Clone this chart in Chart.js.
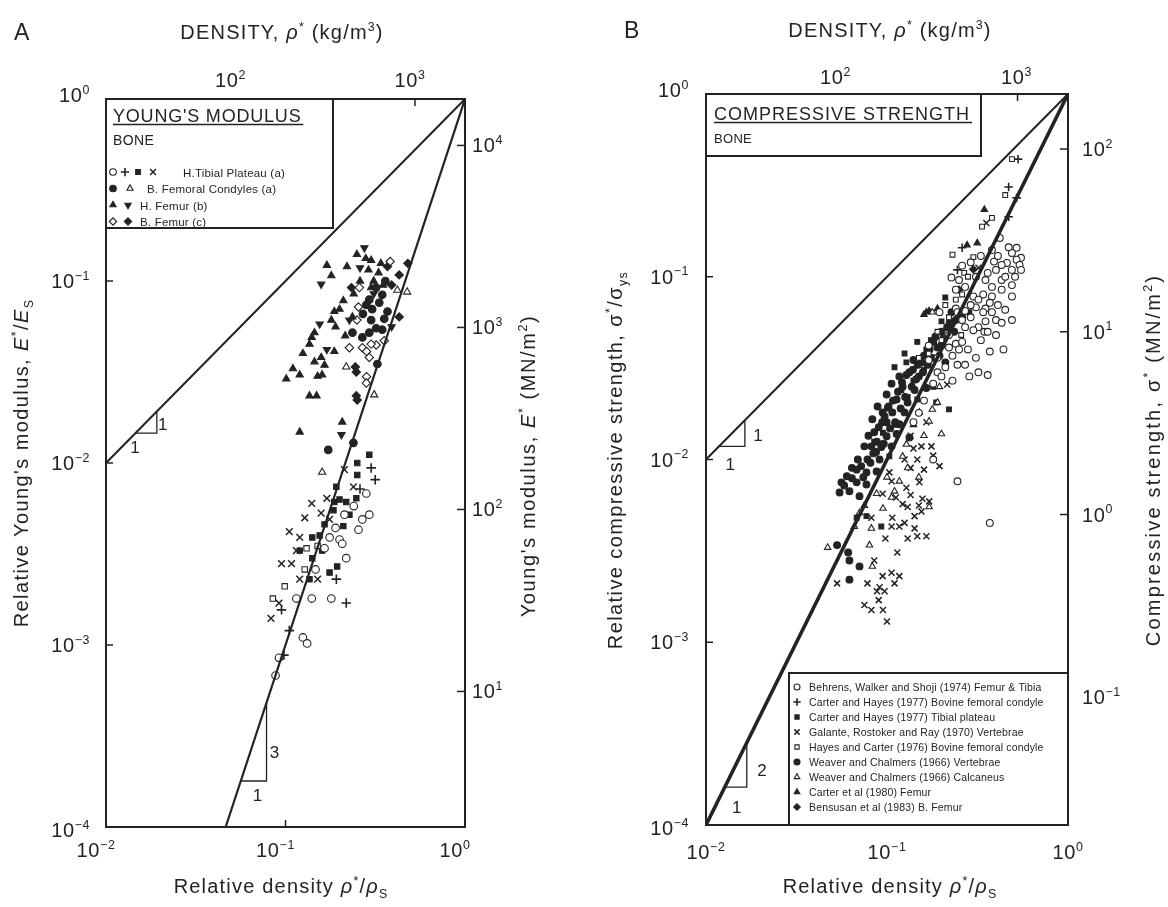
<!DOCTYPE html>
<html>
<head>
<meta charset="utf-8">
<title>Bone: Young's modulus and compressive strength vs relative density</title>
<script src="https://cdn.jsdelivr.net/npm/chart.js@4.4.1/dist/chart.umd.min.js"></script>
<style>
  html, body { margin: 0; padding: 0; background: #fff; }
  .panel { position: absolute; top: 0; width: 584px; height: 907px; }
  #panelA { left: 0; }
  #panelB { left: 584px; }
</style>
</head>
<body>
<div class="panel" id="panelA"><canvas id="chartA" width="584" height="907"></canvas></div>
<div class="panel" id="panelB"><canvas id="chartB" width="584" height="907"></canvas></div>
<script>
// ---- reference constants for the secondary axes ----
const rhoSolid = 1900;      // kg/m3, top axes
const modulusSolid = 18000; // MN/m2, right axis of A
const strengthSolid = 200;  // MN/m2, right axis of B

// ---- tick values ----
const relDensityTicks = [0.01, 0.1, 1];
const relPropertyTicks = [1e-4, 1e-3, 1e-2, 1e-1, 1];
const densityTicks = [100, 1000];
const modulusTicks = [10, 100, 1000, 10000];
const strengthTicks = [0.1, 1, 10, 100];

// ---- A: Young's modulus, [rho*/rhoS, E*/Es] ----
const aTibialCircle = [[0.282,0.0068],[0.213,0.0052],[0.268,0.0049],[0.293,0.0052],[0.176,0.0039],[0.200,0.0038],
  [0.165,0.0034],[0.207,0.0036],[0.218,0.0030],[0.147,0.0026],[0.115,0.0018],[0.140,0.0018],[0.180,0.0018],
  [0.125,0.0011],[0.132,0.00102],[0.092,0.00085],[0.088,0.00068],[0.240,0.0058],[0.190,0.0044],[0.255,0.0043]];
const aTibialPlus = [[0.300,0.0094],[0.316,0.0081],[0.192,0.0023],[0.218,0.0017],[0.095,0.00156],[0.105,0.0012],
  [0.098,0.00088],[0.260,0.0072]];
const aTibialSquare = [[0.251,0.0100],[0.293,0.0111],[0.251,0.0086],[0.192,0.0074],[0.200,0.0063],[0.187,0.0061],
  [0.218,0.0061],[0.248,0.0064],[0.227,0.0052],[0.141,0.0039],[0.155,0.0040],[0.120,0.0033],[0.141,0.0030],
  [0.176,0.0025],[0.194,0.0027],[0.136,0.0023],[0.165,0.0046],[0.185,0.0055],[0.160,0.0033],[0.210,0.0045]];
const aTibialX = [[0.213,0.0092],[0.239,0.0074],[0.158,0.0053],[0.176,0.0049],[0.128,0.0050],[0.105,0.0042],
  [0.120,0.0039],[0.108,0.0028],[0.120,0.0023],[0.151,0.0023],[0.083,0.0014],[0.092,0.0017],[0.140,0.0060],
  [0.170,0.0064],[0.095,0.0028],[0.115,0.0033]];
const aTibialOpenSquare = [[0.151,0.0035],[0.131,0.0034],[0.128,0.0026],[0.099,0.0021],[0.085,0.0018]];
const aCondylesDot = [[0.293,0.079],[0.282,0.074],[0.304,0.070],[0.333,0.076],[0.346,0.084],[0.320,0.055],
  [0.346,0.054],[0.293,0.052],[0.236,0.052],[0.268,0.049],[0.325,0.035],[0.239,0.0129],[0.173,0.0118],
  [0.360,0.100],[0.320,0.092],[0.370,0.068],[0.300,0.061],[0.355,0.062],[0.270,0.066]];
const aCondylesTri = [[0.420,0.089],[0.476,0.087],[0.218,0.0337],[0.312,0.0237],[0.160,0.0089]];
const aHFemurUp = [[0.280,0.133],[0.170,0.122],[0.180,0.107],[0.290,0.115],[0.330,0.111],[0.310,0.100],[0.350,0.095],
  [0.300,0.092],[0.200,0.070],[0.187,0.068],[0.180,0.061],[0.236,0.0635],[0.140,0.049],[0.136,0.045],[0.187,0.041],
  [0.158,0.038],[0.165,0.0345],[0.101,0.029],[0.120,0.0305],[0.151,0.030],[0.160,0.0305],[0.136,0.0234],
  [0.149,0.0234],[0.207,0.0168],[0.120,0.0148],[0.250,0.140],[0.220,0.120],[0.260,0.100],[0.300,0.130],
  [0.340,0.125],[0.240,0.085],[0.210,0.078],[0.190,0.056],[0.215,0.050],[0.145,0.052],[0.125,0.040],
  [0.145,0.036],[0.110,0.033]];
const aHFemurDown = [[0.275,0.152],[0.158,0.096],[0.227,0.061],[0.390,0.056],[0.170,0.042],[0.205,0.0143],
  [0.310,0.085],[0.260,0.118],[0.155,0.058]];
const aBFemurOpen = [[0.258,0.092],[0.255,0.072],[0.320,0.0445],[0.383,0.128],[0.250,0.061],[0.227,0.043],
  [0.268,0.043],[0.283,0.041],[0.293,0.038],[0.283,0.0298],[0.282,0.0275],[0.300,0.045],[0.355,0.047]];
const aBFemurFilled = [[0.430,0.108],[0.233,0.092],[0.430,0.0635],[0.245,0.0337],[0.248,0.0316],[0.248,0.0234],
  [0.251,0.0222],[0.480,0.125],[0.390,0.095],[0.370,0.120]];

// guide lines and slope triangles of A
const aSlopeOne = [[0.01,0.01],[1,1]];
const aSlopeThree = [[0.0464,0.0001],[1,1]];
const aTriangleOne = [[0.0146,0.0146],[0.0192,0.0146],[0.0192,0.0192]];
const aTriangleThree = [[0.0564,0.000179],[0.0784,0.000179],[0.0784,0.000482]];
const aSlopeLabels = [['1',0.0207,0.0163],['1',0.0145,0.01225],['3',0.0869,0.000258],['1',0.0699,0.00015]];

// ---- B: compressive strength, [rho*/rhoS, sigma*/sigma_ys] ----
const bBehrens = [[0.42,0.163],[0.38,0.14],[0.52,0.144],[0.49,0.135],[0.55,0.127],[0.52,0.124],[0.46,0.119],
  [0.54,0.116],[0.43,0.116],[0.39,0.121],[0.40,0.109],[0.49,0.109],[0.55,0.109],[0.227,0.099],[0.25,0.096],
  [0.31,0.100],[0.35,0.096],[0.43,0.096],[0.49,0.090],[0.38,0.088],[0.27,0.088],[0.24,0.085],[0.30,0.078],
  [0.34,0.080],[0.38,0.078],[0.43,0.085],[0.49,0.078],[0.24,0.067],[0.27,0.065],[0.31,0.068],[0.35,0.067],
  [0.195,0.064],[0.245,0.064],[0.34,0.064],[0.38,0.064],[0.40,0.058],[0.43,0.056],[0.49,0.058],[0.35,0.057],
  [0.32,0.053],[0.30,0.051],[0.27,0.053],[0.345,0.050],[0.37,0.039],[0.44,0.040],[0.17,0.042],[0.22,0.041],
  [0.24,0.043],[0.26,0.044],[0.285,0.0285],[0.32,0.030],[0.36,0.029],[0.17,0.035],[0.23,0.037],[0.245,0.033],
  [0.19,0.030],[0.20,0.0285],[0.23,0.027],[0.18,0.026],[0.14,0.016],[0.18,0.010],[0.245,0.0076],[0.37,0.0045],
  [0.26,0.115],[0.29,0.120],[0.33,0.130],[0.36,0.105],[0.41,0.130],[0.45,0.100],[0.47,0.145],[0.51,0.100],
  [0.29,0.070],[0.32,0.075],[0.37,0.072],[0.41,0.070],[0.45,0.066],[0.26,0.058],[0.29,0.060],[0.33,0.045],
  [0.28,0.040],[0.31,0.036],[0.21,0.032],[0.25,0.040],[0.36,0.050],[0.40,0.048],[0.22,0.048],[0.19,0.036],
  [0.27,0.033],[0.16,0.021],[0.15,0.018]];
const bCarterBovine = [[0.53,0.44],[0.52,0.27],[0.47,0.31],[0.47,0.213],[0.26,0.144],[0.245,0.109]];
const bCarterTibial = [[0.21,0.077],[0.285,0.064],[0.147,0.044],[0.125,0.038],[0.128,0.034],[0.11,0.032],
  [0.147,0.0213],[0.187,0.0205],[0.22,0.0188],[0.103,0.0104],[0.068,0.0048],[0.077,0.0049],[0.093,0.0043],
  [0.16,0.031],[0.14,0.027],[0.10,0.019],[0.12,0.024],[0.175,0.045],[0.20,0.057],[0.165,0.040],[0.18,0.025],
  [0.095,0.0140],[0.085,0.0125],[0.13,0.022],[0.11,0.0155]];
const bGalante = [[0.354,0.197],[0.32,0.112],[0.215,0.0257],[0.155,0.0118],[0.176,0.0118],[0.147,0.0100],
  [0.195,0.0092],[0.103,0.0085],[0.106,0.0076],[0.151,0.0075],[0.0946,0.0065],[0.122,0.0057],[0.130,0.0055],
  [0.157,0.0061],[0.171,0.0059],[0.082,0.0048],[0.107,0.0048],[0.142,0.0049],[0.155,0.0052],[0.106,0.0043],
  [0.117,0.0043],[0.142,0.0042],[0.165,0.0038],[0.147,0.0038],[0.114,0.0031],[0.0946,0.0023],[0.106,0.0024],
  [0.117,0.0023],[0.11,0.0021],[0.053,0.0021],[0.091,0.0020],[0.088,0.0019],[0.097,0.0019],[0.075,0.0016],
  [0.082,0.0015],[0.09,0.0017],[0.10,0.0013],[0.095,0.0015],[0.135,0.0135],[0.165,0.016],[0.125,0.0100],
  [0.135,0.0090],[0.140,0.0115],[0.160,0.0088],[0.180,0.0105],[0.128,0.0070],[0.112,0.0062],[0.135,0.0064],
  [0.150,0.0056],[0.125,0.0045],[0.098,0.0037],[0.130,0.0037],[0.085,0.0028],[0.078,0.0021]];
const bHayes = [[0.49,0.44],[0.45,0.28],[0.38,0.21],[0.335,0.188],[0.23,0.132],[0.30,0.128],[0.267,0.105],
  [0.26,0.080],[0.257,0.048],[0.22,0.06],[0.19,0.05],[0.17,0.038],[0.21,0.07],[0.15,0.036],[0.28,0.10],
  [0.24,0.075],[0.20,0.045]];
const bWeaverVertebrae = [[0.227,0.064],[0.26,0.060],[0.215,0.053],[0.20,0.050],[0.235,0.050],[0.18,0.044],
  [0.20,0.042],[0.14,0.035],[0.155,0.034],[0.195,0.037],[0.21,0.034],[0.117,0.0285],[0.133,0.030],[0.15,0.0285],
  [0.106,0.026],[0.122,0.025],[0.142,0.024],[0.165,0.0246],[0.0995,0.0227],[0.113,0.0213],[0.130,0.0205],
  [0.0887,0.0195],[0.0946,0.0181],[0.107,0.0181],[0.125,0.0181],[0.083,0.0166],[0.0995,0.016],[0.117,0.0156],
  [0.085,0.0141],[0.0995,0.0134],[0.113,0.0138],[0.133,0.0132],[0.082,0.0118],[0.093,0.0117],[0.106,0.0118],
  [0.078,0.0100],[0.091,0.0100],[0.068,0.0088],[0.077,0.0085],[0.0876,0.0086],[0.060,0.0081],[0.068,0.0075],
  [0.077,0.0073],[0.0547,0.0066],[0.062,0.0067],[0.0705,0.0063],[0.053,0.0034],[0.061,0.0031],[0.062,0.0028],
  [0.0705,0.0026],[0.062,0.0022],[0.058,0.0072],[0.064,0.0079],[0.072,0.0092],[0.074,0.0080],[0.081,0.0096],
  [0.084,0.0108],[0.088,0.0125],[0.090,0.0150],[0.094,0.0160],[0.097,0.0172],[0.102,0.0195],[0.104,0.0148],
  [0.108,0.0210],[0.111,0.0160],[0.115,0.0235],[0.119,0.0190],[0.121,0.0265],[0.126,0.0220],[0.128,0.0290],
  [0.137,0.0250],[0.139,0.0310],[0.145,0.0275],[0.148,0.0330],[0.158,0.0300],[0.160,0.0370],[0.168,0.0330],
  [0.172,0.0400],[0.178,0.0360],[0.185,0.0470],[0.190,0.0410],[0.205,0.0460],[0.222,0.0560],[0.240,0.0580],
  [0.087,0.0110],[0.096,0.0122],[0.075,0.0118],[0.069,0.0100],[0.064,0.0090],[0.056,0.0075],[0.079,0.0135]];
const bWeaverCalcaneus = [[0.178,0.064],[0.195,0.025],[0.178,0.0188],[0.151,0.0181],[0.171,0.0162],[0.20,0.0138],
  [0.128,0.0121],[0.122,0.0104],[0.117,0.0076],[0.0876,0.0065],[0.106,0.0062],[0.11,0.0067],[0.171,0.0055],
  [0.0705,0.0051],[0.066,0.0043],[0.082,0.0042],[0.080,0.0034],[0.083,0.0026],[0.047,0.0033],[0.14,0.0155],
  [0.16,0.0135],[0.19,0.0205],[0.13,0.0090],[0.10,0.0080],[0.095,0.0054],[0.075,0.0056],[0.15,0.0080]];
const bCarterFemur = [[0.345,0.233],[0.277,0.149],[0.315,0.153],[0.19,0.067],[0.171,0.065],[0.165,0.064],[0.16,0.062]];
const bBensusan = [[0.25,0.085],[0.30,0.11]];

const bSlopeOne = [[0.01,0.01],[1,1]];
const bSlopeTwo = [[0.01,0.0001],[1,1]];
const bTriangleOne = [[0.0118,0.0118],[0.0164,0.0118],[0.0164,0.0164]];
const bTriangleTwo = [[0.0127,0.000161],[0.0168,0.000161],[0.0168,0.000283]];
const bSlopeLabels = [['1',0.0194,0.0137],['1',0.0136,0.0094],['2',0.0204,0.0002],['1',0.0148,0.000126]];

// ---- styling ----
const INK = '#232323';
const FONT = '"Liberation Sans", Arial, Helvetica, sans-serif';
const MARK = {
  circleOpen:  { style: 'circle', filled: false },
  circleFill:  { style: 'circle', filled: true },
  plus:        { style: 'cross', filled: false, grow: 1.25, lw: 1.6 },
  cross:       { style: 'crossRot', filled: false, grow: 1.25, lw: 1.5 },
  squareFill:  { style: 'rect', filled: true },
  squareOpen:  { style: 'rect', filled: false },
  triOpen:     { style: 'triangle', filled: false, grow: 1.1 },
  triFill:     { style: 'triangle', filled: true, grow: 1.1 },
  triDownFill: { style: 'triangle', filled: true, grow: 1.1, rot: 180 },
  diamondOpen: { style: 'rectRot', filled: false, grow: 1.1 },
  diamondFill: { style: 'rectRot', filled: true, grow: 1.1 }
};

function series(label, pts, mk, r) {
  return {
    label: label,
    data: pts.map(p => ({ x: p[0], y: p[1] })),
    pointStyle: mk.style,
    pointRotation: mk.rot || 0,
    pointRadius: r * (mk.grow || 1),
    backgroundColor: mk.filled ? INK : '#fff',
    borderColor: INK,
    borderWidth: mk.lw || 1.1,
    showLine: false
  };
}

function guide(pts, w) {
  return {
    label: '',
    data: pts.map(p => ({ x: p[0], y: p[1] })),
    showLine: true, pointRadius: 0, borderColor: INK, borderWidth: w,
    fill: false, tension: 0
  };
}

function setFont(ctx, size, italic) {
  ctx.font = (italic ? 'italic ' : '') + size + 'px ' + FONT;
}

// parts: [text, kind]  kind: '' | 'i' | 'sup' | 'sub'
function drawRich(ctx, parts, x, y, size, align, spacing) {
  spacing = spacing || 0;
  const items = parts.map(p => {
    const small = p[1] === 'sup' || p[1] === 'sub';
    const s = small ? size * 0.62 : size;
    setFont(ctx, s, p[1] === 'i');
    ctx.letterSpacing = spacing + 'px';
    return { t: p[0], k: p[1], s: s, w: ctx.measureText(p[0]).width };
  });
  const total = items.reduce((a, it) => a + it.w, 0);
  let cx = align === 'center' ? x - total / 2 : align === 'right' ? x - total : x;
  ctx.textAlign = 'left';
  ctx.textBaseline = 'alphabetic';
  ctx.fillStyle = INK;
  items.forEach(it => {
    setFont(ctx, it.s, it.k === 'i');
    ctx.letterSpacing = spacing + 'px';
    let dy = 0;
    if (it.k === 'sup') dy = -size * 0.42;
    if (it.k === 'sub') dy = size * 0.24;
    ctx.fillText(it.t, cx, y + dy);
    cx += it.w;
  });
  ctx.letterSpacing = '0px';
  return total;
}

function drawRotated(ctx, parts, x, y, size, spacing) {
  ctx.save();
  ctx.translate(x, y);
  ctx.rotate(-Math.PI / 2);
  drawRich(ctx, parts, 0, 0, size, 'center', spacing);
  ctx.restore();
}

function pow10(v) {
  const e = Math.round(Math.log10(v));
  return [['10', ''], [e < 0 ? '\u2212' + (-e) : String(e), 'sup']];
}

function marker(ctx, mk, x, y, r) {
  ctx.save();
  ctx.fillStyle = mk.filled ? INK : '#fff';
  ctx.strokeStyle = INK;
  ctx.lineWidth = mk.lw || 1.1;
  Chart.helpers.drawPoint(ctx, { pointStyle: mk.style, radius: r * (mk.grow || 1), rotation: mk.rot || 0, borderWidth: mk.lw || 1.1 }, x, y);
  ctx.restore();
}

function seg(ctx, x1, y1, x2, y2) {
  ctx.beginPath(); ctx.moveTo(x1, y1); ctx.lineTo(x2, y2); ctx.stroke();
}

const TICK_FONT = 20;

function makeDecor(cfg) {
  return {
    id: 'decor',
    afterDraw(chart) {
      const ctx = chart.ctx, ca = chart.chartArea, s = chart.scales;
      const near = (a, b) => Math.abs(a - b) < 2;
      ctx.save();
      ctx.strokeStyle = INK;
      ctx.lineWidth = 1.5;

      // bottom axis: relative density
      relDensityTicks.forEach(v => {
        const px = s.x.getPixelForValue(v);
        if (!near(px, ca.left) && !near(px, ca.right)) seg(ctx, px, ca.bottom, px, ca.bottom - 7);
        drawRich(ctx, pow10(v), px + cfg.bottomDx, cfg.bottomY, TICK_FONT, 'center', 0.6);
      });
      // top axis: density
      densityTicks.forEach(v => {
        const px = s.xTop.getPixelForValue(v);
        seg(ctx, px, ca.top, px, ca.top + 7);
        drawRich(ctx, pow10(v), px + cfg.topDx, cfg.topY, TICK_FONT, 'center', 0.6);
      });
      // left axis: relative property
      relPropertyTicks.forEach((v, i) => {
        const py = s.y.getPixelForValue(v);
        if (!near(py, ca.top) && !near(py, ca.bottom)) seg(ctx, ca.left, py, ca.left + 7, py);
        const dy = i === relPropertyTicks.length - 1 ? 3 : (i === 0 ? 10 : 7);
        drawRich(ctx, pow10(v), ca.left - cfg.leftGap, py + dy, TICK_FONT, 'right', 0.6);
      });
      // right axis: absolute property
      cfg.rightTicks.forEach(v => {
        const py = s.yRight.getPixelForValue(v);
        seg(ctx, ca.right - 8, py, ca.right, py);
        drawRich(ctx, pow10(v), ca.right + cfg.rightGap, py + 7, TICK_FONT, 'left', 0.6);
      });

      // axis titles
      drawRich(ctx, cfg.topTitle, cfg.topTitlePos[0], cfg.topTitlePos[1], 20, 'center', 1.2);
      drawRich(ctx, cfg.bottomTitle, cfg.bottomTitlePos[0], cfg.bottomTitlePos[1], 20, 'center', 1.2);
      drawRotated(ctx, cfg.leftTitle, cfg.leftTitlePos[0], cfg.leftTitlePos[1], 20, 1.4);
      drawRotated(ctx, cfg.rightTitle, cfg.rightTitlePos[0], cfg.rightTitlePos[1], 20, cfg.rightSpacing);
      drawRich(ctx, [[cfg.letter, '']], cfg.letterPos[0], cfg.letterPos[1], 23, 'left', 0);

      // slope labels
      cfg.slopeLabels.forEach(l => {
        const px = s.x.getPixelForValue(l[1]), py = s.y.getPixelForValue(l[2]);
        drawRich(ctx, [[l[0], '']], px, py + 6, 17, 'center', 0);
      });

      cfg.drawLegend(ctx, ca);
      ctx.restore();
    }
  };
}

function boxAt(ctx, x, y, w, h) {
  ctx.save();
  ctx.fillStyle = '#fff';
  ctx.fillRect(x, y, w, h);
  ctx.strokeStyle = INK;
  ctx.lineWidth = 2;
  ctx.strokeRect(x, y, w, h);
  ctx.restore();
}

function underlinedTitle(ctx, text, x, y, size, spacing) {
  const w = drawRich(ctx, [[text, '']], x, y, size, 'left', spacing);
  ctx.save();
  ctx.strokeStyle = INK; ctx.lineWidth = 1.3;
  seg(ctx, x, y + 2.5, x + w + 2, y + 2.5);
  ctx.restore();
}

function legendA(ctx, ca) {
  const L = ca.left, T = ca.top;
  boxAt(ctx, L, T, 227, 129);
  underlinedTitle(ctx, "YOUNG'S MODULUS", L + 7, T + 23, 18, 0.8);
  drawRich(ctx, [['BONE', '']], L + 7, T + 46, 14, 'left', 0.4);
  const rows = [
    { marks: [[MARK.circleOpen, 7], [MARK.plus, 19], [MARK.squareFill, 32], [MARK.cross, 47]], text: 'H.Tibial Plateau (a)', tx: 77 },
    { marks: [[MARK.circleFill, 7], [MARK.triOpen, 24]], text: 'B. Femoral Condyles (a)', tx: 41 },
    { marks: [[MARK.triFill, 7], [MARK.triDownFill, 22]], text: 'H. Femur (b)', tx: 34 },
    { marks: [[MARK.diamondOpen, 7], [MARK.diamondFill, 22]], text: 'B. Femur (c)', tx: 34 }
  ];
  rows.forEach((r, i) => {
    const y = T + 73 + i * 16.5;
    r.marks.forEach(m => marker(ctx, m[0], L + m[1], y, 3.3));
    drawRich(ctx, [[r.text, '']], L + r.tx, y + 4.5, 11.5, 'left', 0.2);
  });
}

function legendB(ctx, ca) {
  const L = ca.left, T = ca.top;
  boxAt(ctx, L, T, 275, 62);
  underlinedTitle(ctx, 'COMPRESSIVE STRENGTH', L + 8, T + 26, 18, 1.0);
  drawRich(ctx, [['BONE', '']], L + 8, T + 49, 13, 'left', 0.3);
  const bx = L + 83, by = T + 579;
  boxAt(ctx, bx, by, ca.right - bx, ca.bottom - by);
  const rows = [
    [MARK.circleOpen, 'Behrens, Walker and Shoji (1974) Femur & Tibia'],
    [MARK.plus, 'Carter and Hayes (1977) Bovine femoral condyle'],
    [MARK.squareFill, 'Carter and Hayes (1977) Tibial plateau'],
    [MARK.cross, 'Galante, Rostoker and Ray (1970) Vertebrae'],
    [MARK.squareOpen, 'Hayes and Carter (1976) Bovine femoral condyle'],
    [MARK.circleFill, 'Weaver and Chalmers (1966) Vertebrae'],
    [MARK.triOpen, 'Weaver and Chalmers (1966) Calcaneus'],
    [MARK.triFill, 'Carter et al (1980) Femur'],
    [MARK.diamondFill, 'Bensusan et al (1983) B. Femur']
  ];
  rows.forEach((r, i) => {
    const y = T + 593 + i * 15;
    marker(ctx, r[0], bx + 8, y, 3);
    drawRich(ctx, [[r[1], '']], bx + 20, y + 4, 10.5, 'left', 0.15);
  });
}

function axisScales(c) {
  const base = {
    type: 'logarithmic',
    ticks: { display: false },
    grid: { display: false },
    border: { display: true, color: INK, width: 2 },
    title: { display: false }
  };
  return {
    x: Object.assign({}, base, { position: 'bottom', min: 0.01, max: 1, afterFit: sc => { sc.height = c.bottomH; } }),
    xTop: Object.assign({}, base, { position: 'top', min: 0.01 * rhoSolid, max: rhoSolid, afterFit: sc => { sc.height = c.topH; } }),
    y: Object.assign({}, base, { position: 'left', min: 1e-4, max: 1, afterFit: sc => { sc.width = c.leftW; } }),
    yRight: Object.assign({}, base, { position: 'right', min: 1e-4 * c.rightSolid, max: c.rightSolid, afterFit: sc => { sc.width = c.rightW; } })
  };
}

function build(canvasId, datasets, c) {
  new Chart(document.getElementById(canvasId), {
    type: 'scatter',
    data: { datasets: datasets },
    options: {
      responsive: false,
      animation: false,
      devicePixelRatio: 1,
      events: [],
      layout: { padding: 0 },
      plugins: { legend: { display: false }, tooltip: { enabled: false } },
      scales: axisScales(c)
    },
    plugins: [makeDecor(c)]
  });
}

// ---- Panel A ----
const rA = 3.8;
build('chartA', [
  guide(aSlopeOne, 2), guide(aSlopeThree, 2.2),
  guide(aTriangleOne, 1.3), guide(aTriangleThree, 1.3),
  series('H.Tibial Plateau (a)', aTibialCircle, MARK.circleOpen, rA),
  series('H.Tibial Plateau (a)', aTibialOpenSquare, MARK.squareOpen, rA),
  series('H.Tibial Plateau (a)', aTibialPlus, MARK.plus, rA),
  series('H.Tibial Plateau (a)', aTibialSquare, MARK.squareFill, rA),
  series('H.Tibial Plateau (a)', aTibialX, MARK.cross, rA),
  series('B. Femoral Condyles (a)', aCondylesDot, MARK.circleFill, rA),
  series('B. Femoral Condyles (a)', aCondylesTri, MARK.triOpen, rA),
  series('H. Femur (b)', aHFemurUp, MARK.triFill, rA),
  series('H. Femur (b)', aHFemurDown, MARK.triDownFill, rA),
  series('B. Femur (c)', aBFemurOpen, MARK.diamondOpen, rA),
  series('B. Femur (c)', aBFemurFilled, MARK.diamondFill, rA)
], {
  leftW: 106, rightW: 119, topH: 99, bottomH: 80, rightSolid: modulusSolid,
  rightTicks: modulusTicks, rightSpacing: 1.6,
  bottomDx: -10, bottomY: 857, topDx: -5, topY: 87, leftGap: 16, rightGap: 7,
  letter: 'A', letterPos: [14, 40],
  topTitle: [['DENSITY, ', ''], ['\u03c1', 'i'], ['*', 'sup'], [' (kg/m', ''], ['3', 'sup'], [')', '']],
  topTitlePos: [282, 39],
  bottomTitle: [['Relative density ', ''], ['\u03c1', 'i'], ['*', 'sup'], ['/', ''], ['\u03c1', 'i'], ['S', 'sub']],
  bottomTitlePos: [281, 893],
  leftTitle: [["Relative Young's modulus, ", ''], ['E', 'i'], ['*', 'sup'], ['/', ''], ['E', 'i'], ['S', 'sub']],
  leftTitlePos: [28, 463],
  rightTitle: [["Young's modulus, ", ''], ['E', 'i'], ['*', 'sup'], [' (MN/m', ''], ['2', 'sup'], [')', '']],
  rightTitlePos: [535, 466],
  slopeLabels: aSlopeLabels,
  drawLegend: legendA
});

// ---- Panel B ----
const rB = 3.4;
build('chartB', [
  guide(bSlopeOne, 2), guide(bSlopeTwo, 3.6),
  guide(bTriangleOne, 1.3), guide(bTriangleTwo, 1.3),
  series('Behrens, Walker and Shoji (1974) Femur & Tibia', bBehrens, MARK.circleOpen, rB),
  series('Hayes and Carter (1976) Bovine femoral condyle', bHayes, MARK.squareOpen, rB),
  series('Weaver and Chalmers (1966) Calcaneus', bWeaverCalcaneus, MARK.triOpen, rB),
  series('Weaver and Chalmers (1966) Vertebrae', bWeaverVertebrae, MARK.circleFill, rB),
  series('Carter and Hayes (1977) Tibial plateau', bCarterTibial, MARK.squareFill, rB),
  series('Galante, Rostoker and Ray (1970) Vertebrae', bGalante, MARK.cross, rB),
  series('Carter and Hayes (1977) Bovine femoral condyle', bCarterBovine, MARK.plus, rB),
  series('Carter et al (1980) Femur', bCarterFemur, MARK.triFill, rB),
  series('Bensusan et al (1983) B. Femur', bBensusan, MARK.diamondFill, rB)
], {
  leftW: 122, rightW: 100, topH: 94, bottomH: 82, rightSolid: strengthSolid,
  rightTicks: strengthTicks, rightSpacing: 2.2,
  bottomDx: 0, bottomY: 859, topDx: -1, topY: 84, leftGap: 17, rightGap: 14,
  letter: 'B', letterPos: [40, 38],
  topTitle: [['DENSITY, ', ''], ['\u03c1', 'i'], ['*', 'sup'], [' (kg/m', ''], ['3', 'sup'], [')', '']],
  topTitlePos: [306, 37],
  bottomTitle: [['Relative density ', ''], ['\u03c1', 'i'], ['*', 'sup'], ['/', ''], ['\u03c1', 'i'], ['S', 'sub']],
  bottomTitlePos: [306, 893],
  leftTitle: [['Relative compressive strength, ', ''], ['\u03c3', ''], ['*', 'sup'], ['/\u03c3', ''], ['ys', 'sub']],
  leftTitlePos: [38, 460],
  rightTitle: [['Compressive strength, ', ''], ['\u03c3', ''], ['*', 'sup'], [' (MN/m', ''], ['2', 'sup'], [')', '']],
  rightTitlePos: [576, 460],
  slopeLabels: bSlopeLabels,
  drawLegend: legendB
});
</script>
</body>
</html>
